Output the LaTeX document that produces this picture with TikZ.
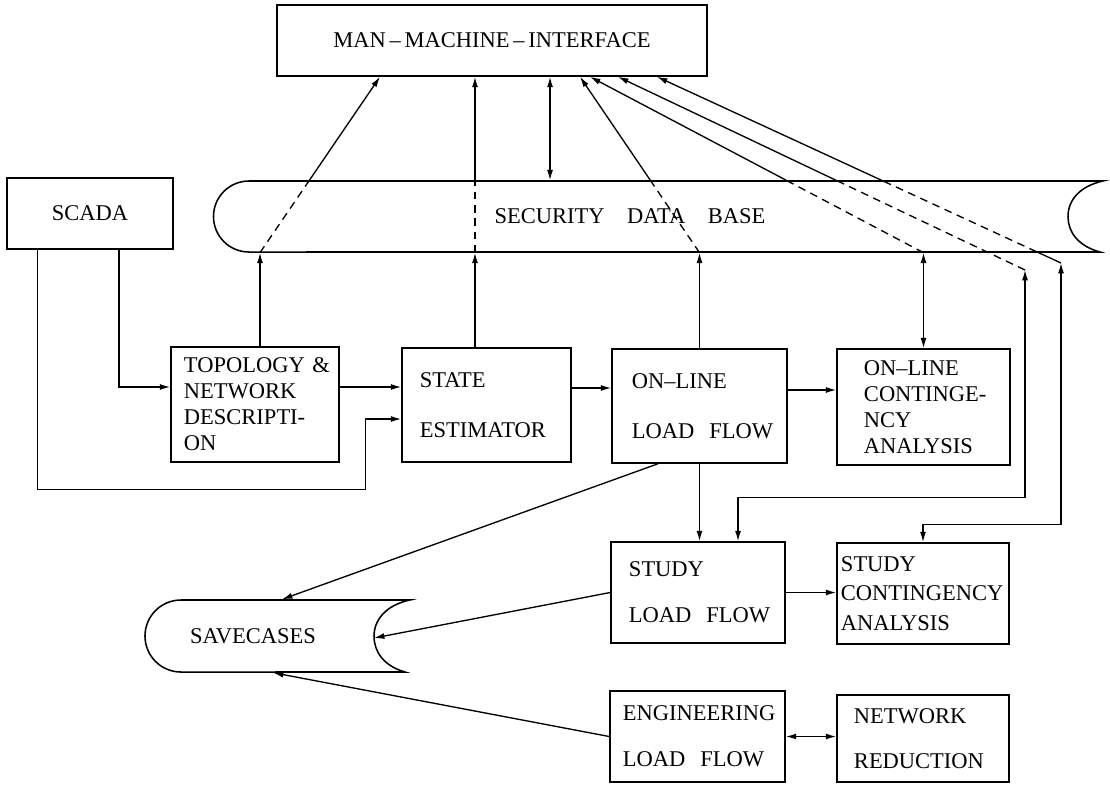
\documentclass[tikz,border=0pt]{standalone}
\usepackage{fontspec}
\setmainfont{Liberation Serif}
\usetikzlibrary{arrows.meta,calc}

\tikzset{
  >={Latex[length=2.6mm,width=1.5mm]},
  box/.style={draw,line width=1.1pt,inner ysep=0pt},
  lbox/.style 2 args={box,align=left,text width=#1,inner xsep=#2},
  dsh/.style={dash pattern=on 5.5pt off 4pt},
  rim/.style={line width=1.1pt}
}
\hyphenpenalty=10000
\exhyphenpenalty=10000

\begin{document}
\begin{tikzpicture}[x=0.025cm,y=-0.025cm,line width=0.95pt,font=\fontsize{16}{18.5}\selectfont]
\useasboundingbox (0,0) rectangle (1110,784);

% blocks
\node[box,minimum width=10.75cm,minimum height=1.775cm] (mmi) at (492,40.5) {MAN\,--\,MACHINE\,--\,INTERFACE};
\node[box,minimum width=4.15cm,minimum height=1.775cm] (scada) at (90,213.5) {SCADA};
\node[lbox={3.55cm}{0.325cm},minimum height=2.875cm] (topo) at (255,404.5) {TOPOLOGY~\&\\NETWORK\\DESCRIPTI-\\ON};
\node[lbox={3.325cm}{0.45cm},minimum height=2.85cm] (state) at (486.5,405) {STATE\\[17pt]ESTIMATOR};
\node[lbox={3.375cm}{0.5cm},minimum height=2.85cm] (online) at (699.5,406) {ON--LINE\\[17pt]LOAD~~FLOW};
\node[lbox={2.975cm}{0.675cm},minimum height=2.9cm] (olca) at (923.5,407) {ON--LINE\\CONTINGE-\\NCY\\ANALYSIS};
\node[lbox={3.45cm}{0.45cm},minimum height=2.525cm] (study) at (698,592.5) {STUDY\\[14pt]LOAD~~FLOW};
\node[lbox={4.1cm}{0.1cm},minimum height=2.525cm] (stca) at (923,593.5) {STUDY\\[2.5pt]CONTINGENCY\\[2.5pt]ANALYSIS};
\node[lbox={3.725cm}{0.325cm},minimum height=2.275cm] (eng) at (697.5,736.5) {ENGINEERING\\[14pt]LOAD~~FLOW};
\node[lbox={3.45cm}{0.425cm},minimum height=2.175cm] (netred) at (923,738.5) {NETWORK\\[14pt]REDUCTION};

% stores
\node[inner sep=0pt,minimum height=1.775cm] (db) at (630,216.5) {SECURITY\hspace{1em}DATA\hspace{1em}BASE};
\draw[rim] (249,181) arc[start angle=90,end angle=270,radius=0.8875cm] -- (1100,252)
  .. controls (1078,246) and (1068,232) .. (1068,216.5)
  .. controls (1068,200) and (1080,186) .. (1103,181) -- cycle;
\node[inner sep=0pt,minimum height=1.8cm] (sc) at (253,636) {SAVECASES};
\draw[rim] (181,600) arc[start angle=90,end angle=270,radius=0.9cm] -- (405,672)
  .. controls (384,666) and (374,652) .. (374,636)
  .. controls (374,620) and (386,605) .. (410,600) -- cycle;
\coordinate (scnotch) at (374,638);

% ends on the MMI
\coordinate (m1) at ([xshift=-2.8cm]mmi.south);
\coordinate (m2) at ([xshift=2.2cm]mmi.south);
\coordinate (m3) at ([xshift=2.45cm]mmi.south);
\coordinate (m4) at ([xshift=3.15cm]mmi.south);
\coordinate (m5) at ([xshift=4.125cm]mmi.south);
\coordinate (la) at (1025,270);
\coordinate (lb) at (1061,263);

% SCADA feeds
\draw[->] ([xshift=0.725cm]scada.south) |- ([yshift=0.4375cm]topo.west);
\draw[->] ([xshift=-1.3125cm]scada.south) |- ([xshift=-0.9cm,yshift=-0.675cm]state.south west) |- ([yshift=-0.35cm]state.west);

% chain
\draw[->] ([yshift=0.4375cm]topo.east) coordinate (e1) -- (e1 -| state.west);
\draw[->] ([yshift=0.425cm]state.east) coordinate (e2) -- (e2 -| online.west);
\draw[->] ([yshift=0.4cm]online.east) coordinate (e3) -- (e3 -| olca.west);
\draw[->] (online.south) -- (online.south |- study.north);
\draw[->] (study.east) -- (study.east -| stca.west);
\draw[<->] (eng.east) -- (eng.east -| netred.west);

% up through the data base
\draw[->] ([xshift=0.125cm]topo.north) coordinate (t0) -- (t0 |- db.south) coordinate (t1);
\draw[dsh] (t1) -- ($(t1)!0.403!(m1)$) coordinate (t2);
\draw[->] (t2) -- (m1);

\draw[->] ([xshift=-0.2875cm]state.north) coordinate (s0) -- (s0 |- db.south);
\draw[dsh] (s0 |- db.south) -- (s0 |- db.north);
\draw[->] (s0 |- db.north) -- (s0 |- mmi.south);

\draw[<->] ([xshift=1.45cm]mmi.south) coordinate (d0) -- (d0 |- db.north);

\draw[->] (online.north) -- (online.north |- db.south) coordinate (o1);
\draw[dsh] (o1) -- ($(o1)!0.403!(m2)$) coordinate (o2);
\draw[->] (o2) -- (m2);

\draw[<->] (olca.north) -- (olca.north |- db.south) coordinate (c1);
\draw[dsh] (c1) -- ($(c1)!0.403!(m3)$) coordinate (c2);
\draw[->] (c2) -- (m3);

% study loops
\draw[dsh] (la) -- ($(m4)!0.541!(la)$) coordinate (a2);
\draw[->] (a2) -- (m4);
\draw[<->] (la) |- ([xshift=1cm,yshift=1.1cm]study.north) -- ([xshift=1cm]study.north);

\draw[->] ($(m5)!0.5615!(lb)$) coordinate (g2) -- (m5);
\draw[dsh] (g2) -- ($(m5)!0.941!(lb)$) coordinate (g3);
\draw (g3) -- (lb);
\draw[<->] (lb) |- ([yshift=0.45cm]stca.north) -- (stca.north);

% savecases
\draw[->] ([xshift=-1.04cm]online.south) -- ([xshift=0.725cm]sc.north);
\draw[->] (study.west) -- (scnotch);
\draw[->] (eng.west) -- ([xshift=0.5cm]sc.south);
\end{tikzpicture}
\end{document}
